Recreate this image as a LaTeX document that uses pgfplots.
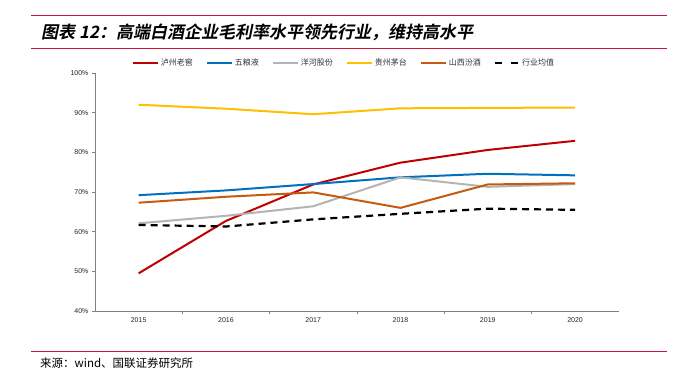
\documentclass[border=0pt]{standalone}
\usepackage{fontspec}
\setmainfont{Liberation Sans}
\newfontfamily\cjk{Noto Sans CJK SC}
\newfontfamily\cjktitle{Noto Sans CJK SC Bold}[FakeSlant=0.2]
\usepackage{pgfplots}
\usepackage{pgfplotstable}
\pgfplotsset{compat=1.18}
\definecolor{cRed}{HTML}{C00000}
\definecolor{cBlue}{HTML}{0070C0}
\definecolor{cGray}{HTML}{B4B4B4}
\definecolor{cYellow}{HTML}{FFC000}
\definecolor{cOrange}{HTML}{C55A11}
\definecolor{rule}{RGB}{204,20,60}
\definecolor{axisgray}{HTML}{808080}
\pgfplotstableread{
x red blue gray yellow orange avg
0 49.5 69.2 62.1 92.0 67.3 61.7
1 62.7 70.4 64.0 91.0 68.8 61.3
2 71.9 72.0 66.4 89.6 69.9 63.1
3 77.4 73.7 73.7 91.1 66.0 64.5
4 80.6 74.6 71.3 91.2 71.9 65.8
5 82.9 74.2 72.0 91.3 72.2 65.5
}\data
\begin{document}
\begin{tikzpicture}[x=1pt,y=1pt]
\path[use as bounding box,fill=white] (0,0) rectangle (675,375);
\draw[rule,line width=0.8pt] (31,359.3) -- (667,359.3);
\draw[rule,line width=0.8pt] (31,326.7) -- (667,326.7);
\draw[rule,line width=0.8pt] (31,23.3) -- (667,23.3);
\node[anchor=base west,inner sep=0pt] at (41,336.5) {\cjktitle\fontsize{17}{18}\selectfont 图表 12：高端白酒企业毛利率水平领先行业，维持高水平};
\node[anchor=base west,inner sep=0pt] at (40,7.5) {\cjk\fontsize{11.5}{12}\selectfont 来源：wind、国联证券研究所};
\begin{axis}[
  at={(95pt,64pt)}, anchor=south west,
  scale only axis, width=523.7pt, height=238pt,
  xmin=-0.5, xmax=5.5, ymin=40, ymax=100,
  axis x line*=bottom, axis y line*=left,
  axis line style={-, draw=axisgray, line width=0.8pt},
  tick align=outside, major tick length=3pt, minor tick length=3pt,
  xtick={0,...,5}, xticklabels={2015,2016,2017,2018,2019,2020},
  minor x tick num=1,
  major x tick style={draw=none},
  minor x tick style={draw=axisgray, line width=0.6pt},
  ytick={40,50,...,100},
  y tick style={draw=axisgray, line width=0.6pt},
  yticklabel={\pgfmathprintnumber{\tick}\%},
  /pgf/number format/assume math mode=true,
  tick label style={font=\fontsize{7}{8}\selectfont, text=black!85},
  legend columns=6,
  legend style={at={(0.4755,1.0408)}, anchor=center, draw=none, fill=none,
    font=\cjk\fontsize{8}{9}\selectfont, text=black!80,
    /tikz/every even column/.append style={column sep=11pt}},
  legend image code/.code={\draw[#1] (0pt,0pt) -- (25pt,0pt);},
  every axis plot/.append style={line width=2pt},
]
\addplot[cRed] table[x=x,y=red] {\data};
\addlegendentry{泸州老窖}
\addplot[cBlue] table[x=x,y=blue] {\data};
\addlegendentry{五粮液}
\addplot[cGray] table[x=x,y=gray] {\data};
\addlegendentry{洋河股份}
\addplot[cYellow] table[x=x,y=yellow] {\data};
\addlegendentry{贵州茅台}
\addplot[cOrange] table[x=x,y=orange] {\data};
\addlegendentry{山西汾酒}
\addplot[black, line width=2.2pt, dash pattern=on 7pt off 5pt,
  legend image code/.code={\draw[black,line width=2.4pt] (0pt,0pt) -- (8pt,0pt) (16pt,0pt) -- (24pt,0pt);}] table[x=x,y=avg] {\data};
\addlegendentry{行业均值}
\end{axis}
\end{tikzpicture}
\end{document}
